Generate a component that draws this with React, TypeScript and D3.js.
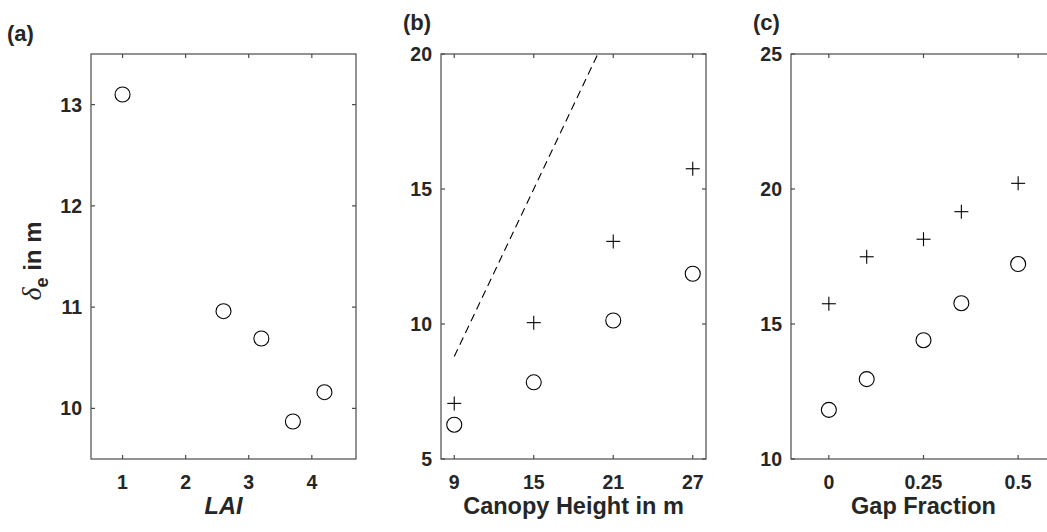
import React from "react";
import * as d3 from "d3";

// Panel (a)
const laiX = [1, 2.6, 3.2, 3.7, 4.2];
const laiY = [13.1, 10.96, 10.69, 9.87, 10.16];
const aXTicks = [1, 2, 3, 4];
const aYTicks = [10, 11, 12, 13];

// Panel (b)
const heightX = [9, 15, 21, 27];
const heightCross = [7.06, 10.05, 13.06, 15.75];
const heightCircle = [6.27, 7.84, 10.13, 11.86];
const heightLine = [8.8, 15.0, 21.2, 27.4];
const bXTicks = [9, 15, 21, 27];
const bYTicks = [5, 10, 15, 20];

// Panel (c)
const gapX = [0, 0.1, 0.25, 0.35, 0.5];
const gapCross = [15.75, 17.49, 18.14, 19.16, 20.21];
const gapCircle = [11.82, 12.96, 14.4, 15.77, 17.22];
const cXTicks = [0, 0.25, 0.5];
const cXTickLabels = ["0", "0.25", "0.5"];
const cYTicks = [10, 15, 20, 25];

const FONT = "'Liberation Sans', Arial, Helvetica, sans-serif";
const TXT = "#262626";
const AX = "#4a4a4a";
const TOP = 54;
const BOTTOM = 459;
const PW = 265;

type PanelProps = {
  left: number;
  xDomain: [number, number];
  yDomain: [number, number];
  xTicks: number[];
  xTickLabels?: string[];
  yTicks: number[];
  xLabel: React.ReactNode;
  tag: string;
  tagX: number;
  tagY: number;
  children: (x: d3.ScaleLinear<number, number>, y: d3.ScaleLinear<number, number>) => React.ReactNode;
  clipId: string;
};

function Panel({ left, xDomain, yDomain, xTicks, xTickLabels, yTicks, xLabel, tag, tagX, tagY, children, clipId }: PanelProps) {
  const x = d3.scaleLinear().domain(xDomain).range([left, left + PW]);
  const y = d3.scaleLinear().domain(yDomain).range([BOTTOM, TOP]);
  const tl = 4;
  return (
    <g>
      <clipPath id={clipId}>
        <rect x={left} y={TOP} width={PW} height={BOTTOM - TOP} />
      </clipPath>
      <g clipPath={`url(#${clipId})`}>{children(x, y)}</g>
      <rect x={left} y={TOP} width={PW} height={BOTTOM - TOP} fill="none" stroke={AX} strokeWidth={1.2} />
      {xTicks.map((t, i) => (
        <g key={"xt" + i}>
          <line x1={x(t)} x2={x(t)} y1={BOTTOM} y2={BOTTOM - tl} stroke={AX} strokeWidth={1.2} />
          <line x1={x(t)} x2={x(t)} y1={TOP} y2={TOP + tl} stroke={AX} strokeWidth={1.2} />
          <text x={x(t)} y={489} textAnchor="middle" fontFamily={FONT} fontWeight="bold" fontSize={19.5} fill={TXT}>
            {xTickLabels ? xTickLabels[i] : String(t)}
          </text>
        </g>
      ))}
      {yTicks.map((t, i) => (
        <g key={"yt" + i}>
          <line x1={left} x2={left + tl} y1={y(t)} y2={y(t)} stroke={AX} strokeWidth={1.2} />
          <line x1={left + PW} x2={left + PW - tl} y1={y(t)} y2={y(t)} stroke={AX} strokeWidth={1.2} />
          <text x={left - 9} y={y(t)} dy="0.36em" textAnchor="end" fontFamily={FONT} fontWeight="bold" fontSize={19.5} fill={TXT}>
            {String(t)}
          </text>
        </g>
      ))}
      <text x={left + PW / 2} y={514} textAnchor="middle" fontFamily={FONT} fontWeight="bold" fontSize={23.5} fill={TXT}>
        {xLabel}
      </text>
      <text x={tagX} y={tagY} fontFamily={FONT} fontWeight="bold" fontSize={22} fill={TXT}>
        {tag}
      </text>
    </g>
  );
}

function Circles({ xs, ys, x, y }: { xs: number[]; ys: number[]; x: any; y: any }) {
  return (
    <g>
      {xs.map((v, i) => (
        <circle key={i} cx={x(v)} cy={y(ys[i])} r={7.5} fill="none" stroke="#000" strokeWidth={1.1} />
      ))}
    </g>
  );
}

function Crosses({ xs, ys, x, y }: { xs: number[]; ys: number[]; x: any; y: any }) {
  const s = 7;
  return (
    <g>
      {xs.map((v, i) => {
        const cx = x(v);
        const cy = y(ys[i]);
        return (
          <g key={i}>
            <line x1={cx - s} x2={cx + s} y1={cy} y2={cy} stroke="#000" strokeWidth={1.1} />
            <line x1={cx} x2={cx} y1={cy - s} y2={cy + s} stroke="#000" strokeWidth={1.1} />
          </g>
        );
      })}
    </g>
  );
}

export default function App() {
  return (
    <svg
      width={1047}
      height={532}
      style={{ position: "absolute", left: 0, top: 0, background: "#fff", overflow: "hidden" }}
    >
      <rect x={0} y={0} width={1047} height={532} fill="#fff" />
      <Panel
        left={91}
        xDomain={[0.5, 4.7]}
        yDomain={[9.5, 13.5]}
        xTicks={aXTicks}
        yTicks={aYTicks}
        xLabel={<tspan fontStyle="italic">LAI</tspan>}
        tag="(a)"
        tagX={7}
        tagY={41}
        clipId="clipA"
      >
        {(x, y) => <Circles xs={laiX} ys={laiY} x={x} y={y} />}
      </Panel>
      <Panel
        left={441}
        xDomain={[8, 28]}
        yDomain={[5, 20]}
        xTicks={bXTicks}
        yTicks={bYTicks}
        xLabel="Canopy Height in m"
        tag="(b)"
        tagX={403}
        tagY={30}
        clipId="clipB"
      >
        {(x, y) => {
          const line = d3
            .line<number>()
            .x((d, i) => x(heightX[i]))
            .y((d) => y(d));
          return (
            <g>
              <path d={line(heightLine) || ""} fill="none" stroke="#000" strokeWidth={1.1} strokeDasharray="8,5" />
              <Crosses xs={heightX} ys={heightCross} x={x} y={y} />
              <Circles xs={heightX} ys={heightCircle} x={x} y={y} />
            </g>
          );
        }}
      </Panel>
      <Panel
        left={791}
        xDomain={[-0.1, 0.6]}
        yDomain={[10, 25]}
        xTicks={cXTicks}
        xTickLabels={cXTickLabels}
        yTicks={cYTicks}
        xLabel="Gap Fraction"
        tag="(c)"
        tagX={753}
        tagY={30}
        clipId="clipC"
      >
        {(x, y) => (
          <g>
            <Crosses xs={gapX} ys={gapCross} x={x} y={y} />
            <Circles xs={gapX} ys={gapCircle} x={x} y={y} />
          </g>
        )}
      </Panel>
      <text
        transform="translate(41,261) rotate(-90)"
        textAnchor="middle"
        fontFamily={FONT}
        fontWeight="bold"
        fontSize={24}
        fill={TXT}
      >
        <tspan fontFamily="'Liberation Serif', 'DejaVu Serif', serif" fontStyle="italic" fontWeight="normal" fontSize={28}>
          δ
        </tspan>
        <tspan dy={7} fontSize={18}>e</tspan>
        <tspan dy={-7}> in m</tspan>
      </text>
    </svg>
  );
}
